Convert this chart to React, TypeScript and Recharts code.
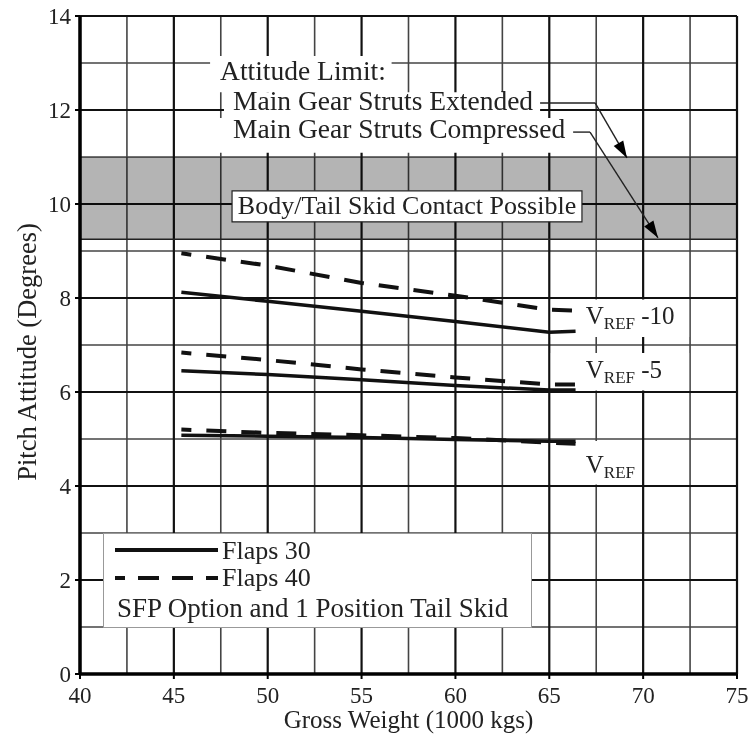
import React from 'react';
import { LineChart, Line, XAxis, YAxis, CartesianGrid, ReferenceArea, ReferenceLine, Legend } from 'recharts';

const SERIF = '"Liberation Serif", "Times New Roman", serif';
const INK = '#111';
const TEXT = '#222';
const BAND_FILL = '#b4b4b4';

// gross weight (1000 kg) sampled along each curve
const WEIGHTS = [45.4, 50, 55, 60, 65, 66.4];
const F30_VREF10 = [8.12, 7.93, 7.72, 7.5, 7.27, 7.29];
const F40_VREF10 = [8.95, 8.69, 8.32, 8.05, 7.75, 7.73];
const F30_VREF5 = [6.45, 6.37, 6.26, 6.14, 6.04, 6.04];
const F40_VREF5 = [6.84, 6.68, 6.48, 6.31, 6.16, 6.16];
const F30_VREF = [5.08, 5.06, 5.03, 4.99, 4.95, 4.95];
const F40_VREF = [5.2, 5.13, 5.08, 5.02, 4.92, 4.9];

const X_MAJOR = [40, 45, 50, 55, 60, 65, 70, 75];
const X_MINOR = [42.5, 47.5, 52.5, 57.5, 62.5, 67.5, 72.5];
const Y_MAJOR = [0, 2, 4, 6, 8, 10, 12, 14];
const Y_MINOR = [1, 3, 5, 7, 9, 11, 13];

const SKID_BAND = [9.25, 11];
const LIMIT_LINES = ['Attitude Limit:', 'Main Gear Struts Extended', 'Main Gear Struts Compressed'];
const BAND_TEXT = 'Body/Tail Skid Contact Possible';
const SPEED_LABELS = [' -10', ' -5', ''];
const LEGEND_NAMES = ['Flaps 30', 'Flaps 40'];
const LEGEND_NOTE = 'SFP Option and 1 Position Tail Skid';

const rows = WEIGHTS.map((w, i) => ({
  w,
  f30m10: F30_VREF10[i],
  f40m10: F40_VREF10[i],
  f30m5: F30_VREF5[i],
  f40m5: F40_VREF5[i],
  f30: F30_VREF[i],
  f40: F40_VREF[i],
}));

const SOLID = { stroke: INK, strokeWidth: 3.5 };
const DASHED = { stroke: INK, strokeWidth: 4, strokeDasharray: '20 15', strokeDashoffset: 10 };

const textAt = (text: string, dx: number, dy: number, size = 27.5, anchor = 'start') => (props: any) => {
  const vb = props.viewBox || {};
  const x = anchor === 'middle' ? vb.x + vb.width / 2 : vb.x + dx;
  return (
    <text x={x} y={vb.y + dy} fontFamily={SERIF} fontSize={size} fill={TEXT} textAnchor={anchor}>
      {text}
    </text>
  );
};

const vrefLabel = (suffix: string, dy: number) => (props: any) => {
  const vb = props.viewBox || {};
  return (
    <text x={vb.x + 35} y={vb.y + dy} fontFamily={SERIF} fontSize={25} fill={TEXT}>
      V
      <tspan fontSize={17} dy={5}>REF</tspan>
      <tspan dy={-5}>{suffix}</tspan>
    </text>
  );
};

const bandShape = (p: any) => (
  <rect x={p.x} y={p.y} width={p.width} height={p.height} fill={BAND_FILL} style={{ mixBlendMode: 'multiply' }} />
);

const arrowShape = (p: any) => {
  const { x1, y1, x2, y2 } = p;
  const a = Math.atan2(y2 - y1, x2 - x1);
  const len = 17;
  const half = 5.5;
  const bx = x2 - len * Math.cos(a);
  const by = y2 - len * Math.sin(a);
  const pts = `${x2},${y2} ${bx + half * Math.sin(a)},${by - half * Math.cos(a)} ${bx - half * Math.sin(a)},${by + half * Math.cos(a)}`;
  return (
    <g>
      <line x1={x1} y1={y1} x2={x2} y2={y2} stroke={TEXT} strokeWidth={1.4} />
      <polygon points={pts} fill="#000" />
    </g>
  );
};

const LegendBox = () => (
  <div style={{ width: 429, height: 95, background: '#fff', border: '1px solid #999', boxSizing: 'border-box' }}>
    <svg width={427} height={93} style={{ display: 'block' }}>
      <line x1={11} x2={114} y1={16} y2={16} stroke={INK} strokeWidth={4} />
      <text x={118} y={25} fontFamily={SERIF} fontSize={26} fill={TEXT}>{LEGEND_NAMES[0]}</text>
      <line x1={11} x2={114} y1={44} y2={44} stroke={INK} strokeWidth={4} strokeDasharray="21 13" strokeDashoffset={11} />
      <text x={118} y={52} fontFamily={SERIF} fontSize={26} fill={TEXT}>{LEGEND_NAMES[1]}</text>
      <text x={13} y={83} fontFamily={SERIF} fontSize={27} fill={TEXT}>{LEGEND_NOTE}</text>
    </svg>
  </div>
);

const tickStyle = { fontFamily: SERIF, fontSize: 23, fill: TEXT };

export default function App() {
  return (
    <div style={{ position: 'absolute', left: 0, top: 0, width: 750, height: 739, background: '#fff' }}>
      <LineChart width={750} height={739} data={rows} margin={{ top: 16, right: 13, bottom: 35, left: 20 }}>
        <CartesianGrid horizontalValues={Y_MINOR} verticalValues={X_MINOR} stroke="#444" strokeWidth={1.6} />
        <CartesianGrid horizontalValues={Y_MAJOR} verticalValues={X_MAJOR} stroke={INK} strokeWidth={2.2} />
        <XAxis
          type="number"
          dataKey="w"
          domain={[40, 75]}
          ticks={X_MAJOR}
          height={30}
          tickSize={5}
          tickMargin={8}
          axisLine={{ stroke: '#000', strokeWidth: 3.5 }}
          tickLine={{ stroke: '#000', strokeWidth: 2 }}
          tick={tickStyle}
          label={(props: any) => {
            const vb = props.viewBox || {};
            return (
              <text x={vb.x + vb.width / 2} y={vb.y + 54} textAnchor="middle" fontFamily={SERIF} fontSize={25} fill={TEXT}>
                Gross Weight (1000 kgs)
              </text>
            );
          }}
        />
        <YAxis
          type="number"
          domain={[0, 14]}
          ticks={Y_MAJOR}
          width={60}
          tickSize={5}
          tickMargin={4}
          axisLine={{ stroke: '#000', strokeWidth: 3.5 }}
          tickLine={{ stroke: '#000', strokeWidth: 2 }}
          tick={tickStyle}
          label={(props: any) => {
            const vb = props.viewBox || {};
            const cx = vb.x + 16;
            const cy = vb.y + vb.height / 2 + 7;
            return (
              <text x={cx} y={cy} transform={`rotate(-90 ${cx} ${cy})`} textAnchor="middle" fontFamily={SERIF} fontSize={26.5} fill={TEXT}>
                Pitch Attitude (Degrees)
              </text>
            );
          }}
        />

        <ReferenceArea y1={SKID_BAND[0]} y2={SKID_BAND[1]} shape={bandShape} />
        <ReferenceLine y={SKID_BAND[0]} stroke="#222" strokeWidth={1.5} />

        {/* attitude limit note */}
        <ReferenceArea x1={46.93} x2={56.6} y1={12.38} y2={13.15} fill="#fff" fillOpacity={1} label={textAt(LIMIT_LINES[0], 10, 24)} />
        <ReferenceArea x1={47.67} x2={64.51} y1={11.83} y2={12.38} fill="#fff" fillOpacity={1} label={textAt(LIMIT_LINES[1], 9, 18)} />
        <ReferenceArea x1={47.03} x2={66.37} y1={11.09} y2={11.83} fill="#fff" fillOpacity={1} label={textAt(LIMIT_LINES[2], 21, 20)} />
        <ReferenceLine segment={[{ x: 64.51, y: 12.15 }, { x: 67.44, y: 12.15 }]} stroke={TEXT} strokeWidth={1.4} />
        <ReferenceLine segment={[{ x: 67.44, y: 12.15 }, { x: 69.14, y: 10.98 }]} shape={arrowShape} />
        <ReferenceLine segment={[{ x: 66.27, y: 11.53 }, { x: 67.17, y: 11.53 }]} stroke={TEXT} strokeWidth={1.4} />
        <ReferenceLine segment={[{ x: 67.17, y: 11.53 }, { x: 70.79, y: 9.28 }]} shape={arrowShape} />

        <ReferenceArea
          x1={48.1}
          x2={66.74}
          y1={9.62}
          y2={10.28}
          fill="#fff"
          fillOpacity={1}
          stroke="#222"
          strokeWidth={1.2}
          label={textAt(BAND_TEXT, 0, 23, 26, 'middle')}
        />

        {/* speed labels */}
        <ReferenceArea x1={65.08} x2={72.45} y1={7.17} y2={7.97} fill="#fff" fillOpacity={1} label={vrefLabel(SPEED_LABELS[0], 25)} />
        <ReferenceArea x1={65.08} x2={72.45} y1={6.03} y2={6.83} fill="#fff" fillOpacity={1} label={vrefLabel(SPEED_LABELS[1], 25)} />
        <ReferenceArea x1={65.08} x2={69.9} y1={4.03} y2={4.96} fill="#fff" fillOpacity={1} label={vrefLabel(SPEED_LABELS[2], 32)} />

        <Line type="linear" dataKey="f40m10" name="Flaps 40" {...DASHED} dot={false} activeDot={false} isAnimationActive={false} />
        <Line type="linear" dataKey="f30m10" name="Flaps 30" {...SOLID} dot={false} activeDot={false} isAnimationActive={false} />
        <Line type="linear" dataKey="f40m5" {...DASHED} dot={false} activeDot={false} isAnimationActive={false} legendType="none" />
        <Line type="linear" dataKey="f30m5" {...SOLID} dot={false} activeDot={false} isAnimationActive={false} legendType="none" />
        <Line type="linear" dataKey="f40" {...DASHED} dot={false} activeDot={false} isAnimationActive={false} legendType="none" />
        <Line type="linear" dataKey="f30" {...SOLID} dot={false} activeDot={false} isAnimationActive={false} legendType="none" />

        <Legend
          layout="horizontal"
          verticalAlign="middle"
          align="center"
          content={() => <LegendBox />}
          wrapperStyle={{ left: 103, top: 533, width: 429, height: 95 }}
        />
      </LineChart>
    </div>
  );
}
